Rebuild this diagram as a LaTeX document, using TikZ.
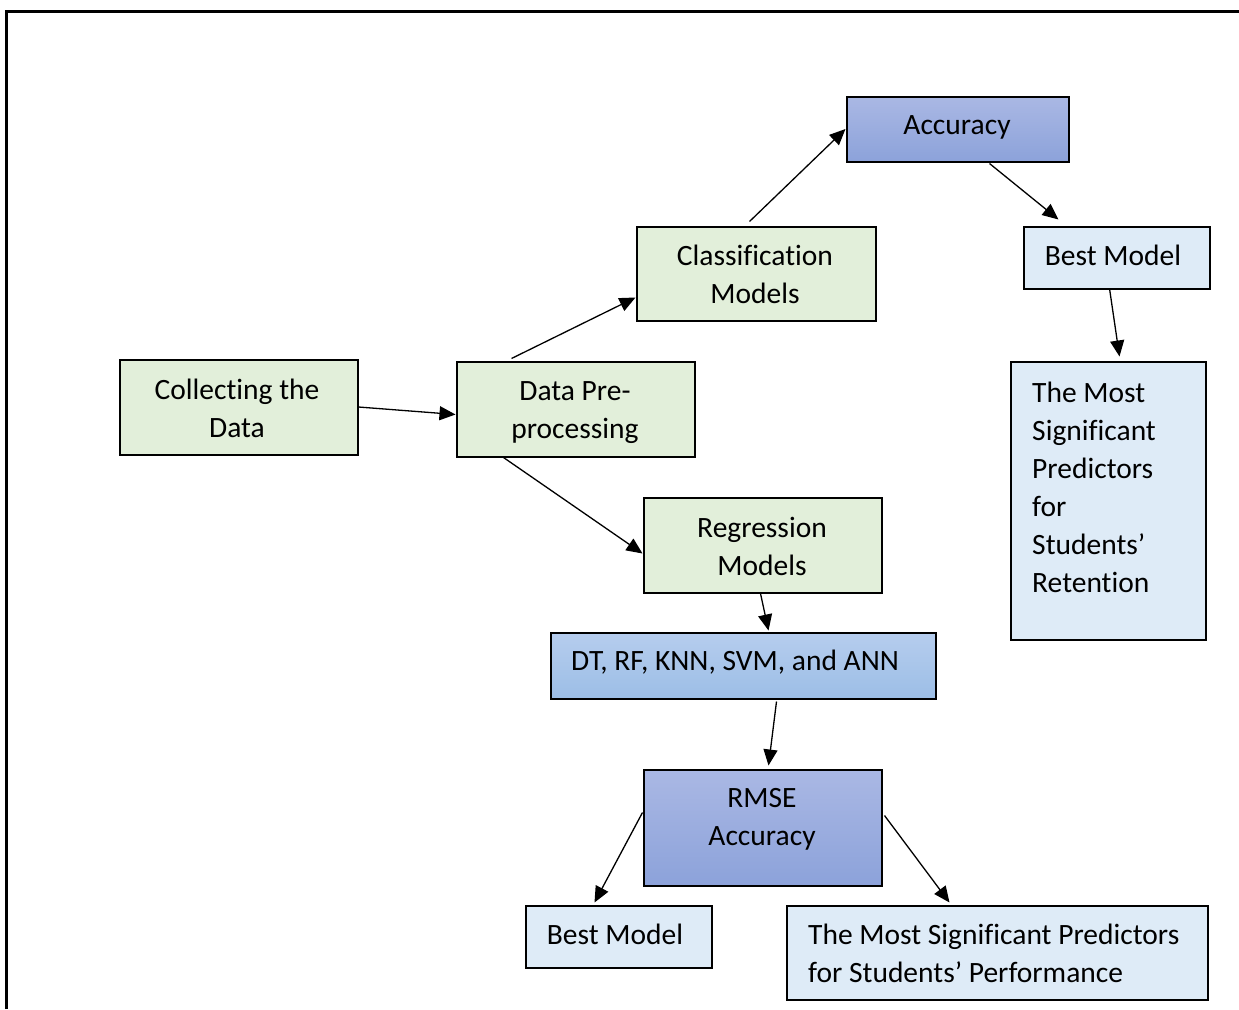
\documentclass[tikz,border=0pt]{standalone}
\usepackage{fontspec}
\setmainfont{Carlito}[Ligatures=NoCommon]
\usetikzlibrary{arrows.meta,calc}
\definecolor{greenf}{RGB}{226,239,218}
\definecolor{bluef}{RGB}{222,235,247}
\definecolor{acctop}{RGB}{170,184,228}
\definecolor{accbot}{RGB}{140,162,218}
\definecolor{dttop}{RGB}{182,205,238}
\definecolor{dtbot}{RGB}{156,190,230}
\tikzset{
  box/.style={draw=black, line width=2pt, inner sep=0pt, anchor=north west},
  gbox/.style={box, fill=greenf},
  bbox/.style={box, fill=bluef},
  abox/.style={box, top color=acctop, bottom color=accbot},
  dbox/.style={box, top color=dttop, bottom color=dtbot},
  txt/.style={font=\fontsize{29.5}{38}\selectfont, inner sep=0pt, align=center, text=black},
  txtl/.style={txt, align=left, anchor=west},
  conn/.style={line width=1.3pt, -{Triangle[length=16pt,width=14pt]}},
  frame/.style={line width=3pt}
}
\begin{document}
\begin{tikzpicture}[x=1pt,y=-1pt]
\useasboundingbox (0,0) rectangle (1239,1009);
\fill[white] (0,0) rectangle (1239,1009);
% outer frame
\coordinate (fbl) at (6.7,1009);
\coordinate (ftl) at (6.7,11);
\coordinate (ftr) at (1239,11);
\draw[frame] (fbl) -- (ftl) -- (ftr);

% boxes
\node[abox, minimum width=222pt, minimum height=65pt] (acc) at (845.5,95.5) {};
\node[gbox, minimum width=239pt, minimum height=94pt] (cls) at (635.5,225.5) {};
\node[bbox, minimum width=186pt, minimum height=62pt] (best1) at (1022.5,225.5) {};
\node[bbox, minimum width=195pt, minimum height=278pt] (sig1) at (1009.5,360.5) {};
\node[gbox, minimum width=238pt, minimum height=95pt] (coll) at (118.5,358.5) {};
\node[gbox, minimum width=238pt, minimum height=95pt] (pre) at (455.5,360.5) {};
\node[gbox, minimum width=238pt, minimum height=95pt] (reg) at (642.5,496.5) {};
\node[dbox, minimum width=385pt, minimum height=66pt] (dt) at (549.5,631.5) {};
\node[abox, minimum width=238pt, minimum height=116pt] (rmse) at (642.5,768.5) {};
\node[bbox, minimum width=186pt, minimum height=62pt] (best2) at (524.5,904.5) {};
\node[bbox, minimum width=421pt, minimum height=94pt] (sig2) at (785.5,904.5) {};

% texts
\node[txt] (acc-t) at (957,126.9) {\strut Accuracy};
\node[txt] (cls-t) at (755,276.9) {\strut Classification\\\strut Models};
\node[txt] (best1-t) at (1113,257.9) {\strut Best Model};
\node[txtl] (sig1-t) at (1032,489.4) {\strut The Most\\\strut Significant\\\strut Predictors\\\strut for\\\strut Students’\\\strut Retention};
\node[txt] (coll-t) at (237,410.4) {\strut Collecting the\\\strut Data};
\node[txt] (pre-t) at (575,411.9) {\strut Data Pre-\\\strut processing};
\node[txt] (reg-t) at (762,548.4) {\strut Regression\\\strut Models};
\node[txtl] (dt-t) at (571,662.9) {\strut DT, RF, KNN, SVM, and ANN};
\node[txt] (rmse-t) at (762,818.6) {\strut RMSE\\\strut Accuracy};
\node[txt] (best2-t) at (615,936.9) {\strut Best Model};
\node[txtl] (sig2-t) at (808,955.9) {\strut The Most Significant Predictors\\\strut for Students’ Performance};

% connectors
\draw[conn] (coll.east) -- ($(pre.west)+(0,5.5)$);
\draw[conn] ($(pre.north west)+(56,-2)$) -- ($(cls.west)+(0,24)$);
\draw[conn] ($(pre.south west)+(48,0)$) -- ($(reg.west)+(0,8.5)$);
\draw[conn] ($(cls.north)+(-6.5,-4)$) -- (acc.west);
\draw[conn] ($(acc.south west)+(144,1)$) -- ($(best1.north west)+(36,-6)$);
\draw[conn] ($(best1.south)+(-7,-1)$) -- ($(sig1.north)+(11.5,-4)$);
\draw[conn] ($(reg.south)+(-2,0)$) -- ($(dt.north)+(25.5,-1)$);
\draw[conn] ($(dt.south)+(33.5,2)$) -- ($(rmse.north)+(6,-3)$);
\draw[conn] ($(rmse.west)+(0,-15)$) -- ($(best2.north west)+(70,-2)$);
\draw[conn] ($(rmse.east)+(2,-12)$) -- ($(sig2.north west)+(164,-2)$);
\end{tikzpicture}
\end{document}
